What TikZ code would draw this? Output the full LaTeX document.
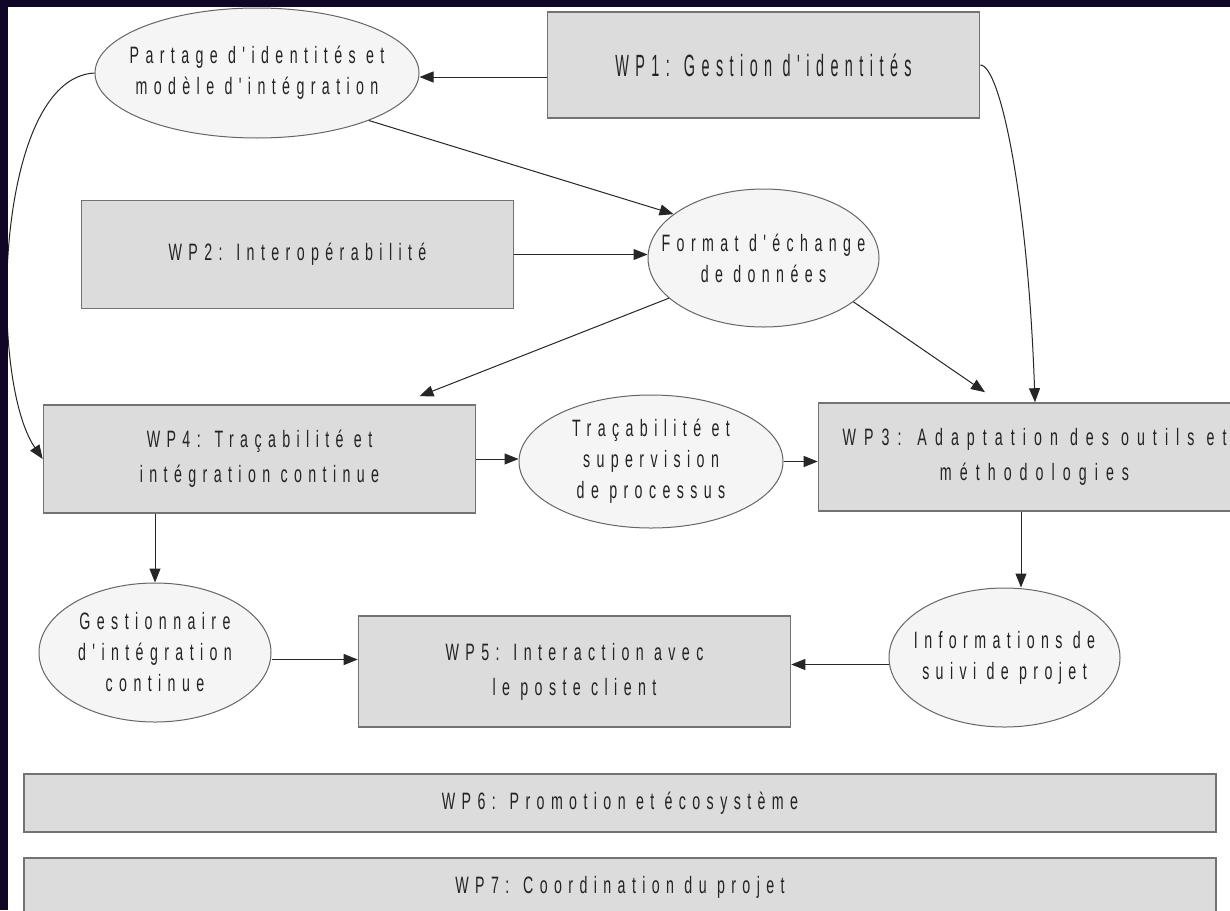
\documentclass[tikz,border=0pt]{standalone}
\usepackage{fontspec}
\newfontfamily\wpfont{Liberation Sans}[FakeStretch=0.6, LetterSpace=27]
\newfontfamily\wpwidefont{Liberation Sans}[FakeStretch=0.6, LetterSpace=34]
\newfontfamily\wpbigfont{Liberation Sans}[FakeStretch=0.47, LetterSpace=21]
\usetikzlibrary{shapes.geometric, arrows.meta}
\definecolor{framenavy}{RGB}{16, 6, 38}
\definecolor{boxgray}{RGB}{220, 220, 220}
\definecolor{bubblegray}{RGB}{245, 245, 245}
\definecolor{inkgray}{RGB}{35, 35, 35}

\begin{document}
\begin{tikzpicture}[x=1pt, y=-1pt,
    box/.style={rectangle, draw=black!55, line width=1.6pt, fill=boxgray, minimum width=432pt, minimum height=108pt, align=center, text=inkgray, font=\wpfont\fontsize{23.7}{35}\selectfont},
    bubble/.style={ellipse, draw=black!60, line width=1pt, fill=bubblegray, inner xsep=-40pt, inner ysep=-10pt, align=center, text=inkgray, font=\wpfont\fontsize{23.7}{31}\selectfont},
    arrow/.style={-{Triangle[length=14pt, width=11pt]}, line width=1pt, draw=black!85}
  ]
    \fill[white] (0,0) rectangle (1230,910);
    \useasboundingbox (0,0) rectangle (1230,910);

    \node[box, minimum height=106pt, font=\wpbigfont\fontsize{30.7}{38}\selectfont] (wp1) at (763.5,65) {WP1: Gestion d'identités};
    \node[bubble, minimum width=324pt, minimum height=130pt] (partage) at (257,73) {Partage d'identités et\\modèle d'intégration};
    \node[box] (wp2) at (297.5,254.5) {WP2: Interopérabilité};
    \node[bubble, minimum width=231pt, minimum height=138pt] (format) at (763.5,258) {Format d'échange\\de données};
    \node[box] (wp4) at (259.5,459) {WP4: Traçabilité et\\intégration continue};
    \node[bubble, minimum width=264pt, minimum height=133pt] (traca) at (651,461.5) {Traçabilité et\\supervision\\de processus};
    \node[box, font=\wpwidefont\fontsize{23.7}{35}\selectfont] (wp3) at (1034.5,457) {WP3: Adaptation des outils et\\méthodologies};
    \node[bubble, minimum width=232pt, minimum height=139pt] (gestion) at (155,652.5) {Gestionnaire\\d'intégration\\continue};
    \node[box, minimum height=111pt] (wp5) at (574.5,671.5) {WP5: Interaction avec\\le poste client};
    \node[bubble, minimum width=231pt, minimum height=139pt] (info) at (1004.5,657.5) {Informations de\\suivi de projet};
    \node[box, minimum width=1192pt, minimum height=58pt] (wp6) at (620,803) {WP6: Promotion et écosystème};
    \node[box, minimum width=1192pt, minimum height=58pt] (wp7) at (620,887) {WP7: Coordination du projet};

    \draw[arrow] ([yshift=-12pt]wp1.west) -- ([yshift=-4pt]partage.east);
    \draw[arrow] (partage.-23) -- (format.154);
    \draw[arrow] (wp2.east) -- (wp2.east -| format.west);
    \draw[arrow] (format.203) -- ([xshift=160pt, yshift=8pt]wp4.north);
    \draw[arrow] (format.-26) -- ([xshift=-49.5pt, yshift=10pt]wp3.north);
    \draw[arrow] (wp1.east) .. controls +(20,0) and +(-7,-203) .. ([xshift=0.5pt]wp3.north);
    \draw[arrow] (partage.west) .. controls +(-100,5) and +(-55,-80) .. (wp4.west);
    \draw[arrow] (wp4.east) -- (wp4.east -| traca.west);
    \draw[arrow] (traca.east) -- (traca.east -| wp3.west);
    \draw[arrow] (gestion.north |- wp4.south) -- (gestion.north);
    \draw[arrow] ([xshift=-13.5pt]wp3.south) -- ([xshift=16.5pt]info.north);
    \draw[arrow] ([yshift=-7pt]gestion.east) -- ([yshift=-7pt]gestion.east -| wp5.west);
    \draw[arrow] ([yshift=-7pt]info.west) -- ([yshift=-7pt]info.west -| wp5.east);

    % dark frame on top and left
    \fill[framenavy] (0,0) rectangle (1230,7);
    \fill[framenavy] (0,0) rectangle (8,910);
  \end{tikzpicture}
\end{document}
